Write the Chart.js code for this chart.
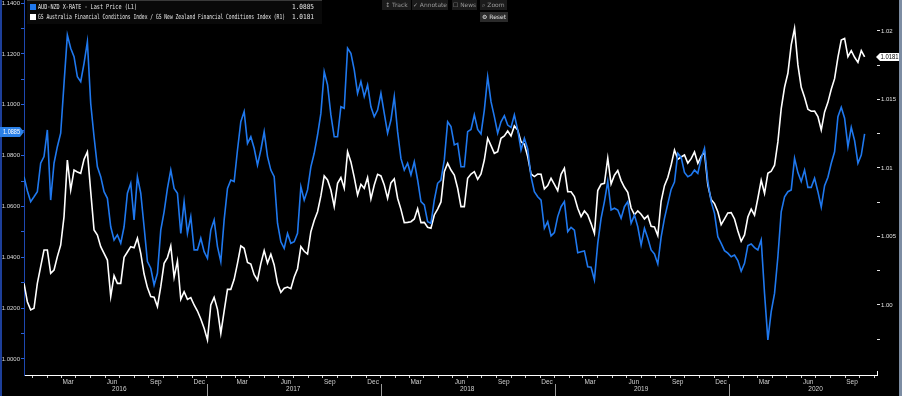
<!DOCTYPE html>
<html>
<head>
<meta charset="utf-8">
<script src="https://cdn.jsdelivr.net/npm/chart.js@4.4.1/dist/chart.umd.min.js"></script>
<style>
html, body { margin: 0; padding: 0; background: #000; }
#wrap { position: relative; width: 902px; height: 396px; }
</style>
</head>
<body>
<div id="wrap"><canvas id="chart" width="902" height="396"></canvas></div>
<script>
// weekly readings (Mondays)
const dates = [
	'2015-12-14','2015-12-21','2015-12-28',
	'2016-01-04','2016-01-11','2016-01-18','2016-01-25','2016-02-01','2016-02-08','2016-02-15','2016-02-22','2016-02-29',
	'2016-03-07','2016-03-14','2016-03-21','2016-03-28','2016-04-04','2016-04-11','2016-04-18','2016-04-25',
	'2016-05-02','2016-05-09','2016-05-16','2016-05-23','2016-05-30','2016-06-06','2016-06-13','2016-06-20','2016-06-27',
	'2016-07-04','2016-07-11','2016-07-18','2016-07-25','2016-08-01','2016-08-08','2016-08-15','2016-08-22','2016-08-29',
	'2016-09-05','2016-09-12','2016-09-19','2016-09-26','2016-10-03','2016-10-10','2016-10-17','2016-10-24','2016-10-31',
	'2016-11-07','2016-11-14','2016-11-21','2016-11-28','2016-12-05','2016-12-12','2016-12-19','2016-12-26',
	'2017-01-02','2017-01-09','2017-01-16','2017-01-23','2017-01-30','2017-02-06','2017-02-13','2017-02-20','2017-02-27',
	'2017-03-06','2017-03-13','2017-03-20','2017-03-27','2017-04-03','2017-04-10','2017-04-17','2017-04-24',
	'2017-05-01','2017-05-08','2017-05-15','2017-05-22','2017-05-29','2017-06-05','2017-06-12','2017-06-19','2017-06-26',
	'2017-07-03','2017-07-10','2017-07-17','2017-07-24','2017-07-31','2017-08-07','2017-08-14','2017-08-21','2017-08-28',
	'2017-09-04','2017-09-11','2017-09-18','2017-09-25','2017-10-02','2017-10-09','2017-10-16','2017-10-23','2017-10-30',
	'2017-11-06','2017-11-13','2017-11-20','2017-11-27','2017-12-04','2017-12-11','2017-12-18','2017-12-25',
	'2018-01-01','2018-01-08','2018-01-15','2018-01-22','2018-01-29','2018-02-05','2018-02-12','2018-02-19','2018-02-26',
	'2018-03-05','2018-03-12','2018-03-19','2018-03-26','2018-04-02','2018-04-09','2018-04-16','2018-04-23','2018-04-30',
	'2018-05-07','2018-05-14','2018-05-21','2018-05-28','2018-06-04','2018-06-11','2018-06-18','2018-06-25',
	'2018-07-02','2018-07-09','2018-07-16','2018-07-23','2018-07-30','2018-08-06','2018-08-13','2018-08-20','2018-08-27',
	'2018-09-03','2018-09-10','2018-09-17','2018-09-24','2018-10-01','2018-10-08','2018-10-15','2018-10-22','2018-10-29',
	'2018-11-05','2018-11-12','2018-11-19','2018-11-26','2018-12-03','2018-12-10','2018-12-17','2018-12-24','2018-12-31',
	'2019-01-07','2019-01-14','2019-01-21','2019-01-28','2019-02-04','2019-02-11','2019-02-18','2019-02-25',
	'2019-03-04','2019-03-11','2019-03-18','2019-03-25','2019-04-01','2019-04-08','2019-04-15','2019-04-22','2019-04-29',
	'2019-05-06','2019-05-13','2019-05-20','2019-05-27','2019-06-03','2019-06-10','2019-06-17','2019-06-24',
	'2019-07-01','2019-07-08','2019-07-15','2019-07-22','2019-07-29','2019-08-05','2019-08-12','2019-08-19','2019-08-26',
	'2019-09-02','2019-09-09','2019-09-16','2019-09-23','2019-09-30','2019-10-07','2019-10-14','2019-10-21','2019-10-28',
	'2019-11-04','2019-11-11','2019-11-18','2019-11-25','2019-12-02','2019-12-09','2019-12-16','2019-12-23','2019-12-30',
	'2020-01-06','2020-01-13','2020-01-20','2020-01-27','2020-02-03','2020-02-10','2020-02-17','2020-02-24',
	'2020-03-02','2020-03-09','2020-03-16','2020-03-23','2020-03-30','2020-04-06','2020-04-13','2020-04-20','2020-04-27',
	'2020-05-04','2020-05-11','2020-05-18','2020-05-25','2020-06-01','2020-06-08','2020-06-15','2020-06-22','2020-06-29',
	'2020-07-06','2020-07-13','2020-07-20','2020-07-27','2020-08-03','2020-08-10','2020-08-17','2020-08-24','2020-08-31',
	'2020-09-07','2020-09-14','2020-09-21','2020-09-28','2020-10-05','2020-10-12'
];

// AUD-NZD X-RATE, left axis
const audnzd = [
	1.0717, 1.0662, 1.0619, 1.0638, 1.0658, 1.0770, 1.0796, 1.0901, 1.0625, 1.0770, 1.0835, 1.0888, 1.1084, 1.1274,
	1.1222, 1.1189, 1.1110, 1.1091, 1.1163, 1.1248, 1.1005, 1.0874, 1.0756, 1.0717, 1.0658, 1.0632, 1.0520, 1.0468,
	1.0488, 1.0455, 1.0520, 1.0652, 1.0691, 1.0547, 1.0717, 1.0652, 1.0520, 1.0383, 1.0357, 1.0291, 1.0337, 1.0507,
	1.0579, 1.0671, 1.0743, 1.0671, 1.0652, 1.0494, 1.0619, 1.0494, 1.0560, 1.0429, 1.0429, 1.0475, 1.0422, 1.0396,
	1.0507, 1.0547, 1.0442, 1.0383, 1.0547, 1.0671, 1.0704, 1.0698, 1.0822, 1.0933, 1.0973, 1.0848, 1.0874, 1.0829,
	1.0763, 1.0822, 1.0894, 1.0796, 1.0743, 1.0717, 1.0534, 1.0461, 1.0435, 1.0494, 1.0455, 1.0461, 1.0494, 1.0678,
	1.0625, 1.0665, 1.0756, 1.0809, 1.0881, 1.0966, 1.1130, 1.1078, 1.0960, 1.0874, 1.0874, 1.0992, 1.0986, 1.1222,
	1.1202, 1.1137, 1.1045, 1.1091, 1.1032, 1.1078, 1.0992, 1.0953, 1.0979, 1.1045, 1.0966, 1.0888, 1.0940, 1.1032,
	1.0894, 1.0789, 1.0743, 1.0770, 1.0724, 1.0776, 1.0704, 1.0619, 1.0606, 1.0540, 1.0534, 1.0625, 1.0691, 1.0704,
	1.0783, 1.0933, 1.0914, 1.0842, 1.0848, 1.0756, 1.0756, 1.0894, 1.0903, 1.0960, 1.0903, 1.0885, 1.0979, 1.1110,
	1.1012, 1.0953, 1.0888, 1.0933, 1.0957, 1.0920, 1.0911, 1.0960, 1.0901, 1.0822, 1.0868, 1.0826, 1.0717, 1.0658,
	1.0638, 1.0625, 1.0514, 1.0540, 1.0484, 1.0497, 1.0560, 1.0599, 1.0619, 1.0501, 1.0518, 1.0507, 1.0418, 1.0422,
	1.0425, 1.0363, 1.0361, 1.0311, 1.0455, 1.0553, 1.0619, 1.0698, 1.0586, 1.0593, 1.0586, 1.0553, 1.0599, 1.0619,
	1.0534, 1.0566, 1.0520, 1.0448, 1.0514, 1.0475, 1.0429, 1.0413, 1.0374, 1.0479, 1.0553, 1.0610, 1.0667, 1.0696,
	1.0809, 1.0793, 1.0734, 1.0717, 1.0724, 1.0743, 1.0730, 1.0789, 1.0829, 1.0698, 1.0619, 1.0573, 1.0481, 1.0455,
	1.0426, 1.0416, 1.0402, 1.0409, 1.0387, 1.0345, 1.0376, 1.0446, 1.0452, 1.0438, 1.0429, 1.0468, 1.0258, 1.0075,
	1.0186, 1.0258, 1.0402, 1.0579, 1.0638, 1.0658, 1.0665, 1.0789, 1.0733, 1.0698, 1.0743, 1.0675, 1.0675, 1.0711,
	1.0658, 1.0597, 1.0682, 1.0715, 1.0770, 1.0815, 1.0953, 1.0990, 1.0947, 1.0835, 1.0911, 1.0859, 1.0770, 1.0802,
	1.0885
];

// GS Australia FCI / GS New Zealand FCI, right axis
const fciRatio = [
	1.00158, 1.00024, 0.99964, 0.99976, 1.00158, 1.00280, 1.00401, 1.00401, 1.00231, 1.00255, 1.00353, 1.00438, 1.00645, 1.01058,
	1.00839, 1.00985, 1.00971, 1.00961, 1.01063, 1.01117, 1.00827, 1.00547, 1.00511, 1.00426, 1.00377, 1.00328, 1.00061, 1.00214,
	1.00158, 1.00158, 1.00348, 1.00387, 1.00426, 1.00418, 1.00487, 1.00377, 1.00226, 1.00127, 1.00061, 1.00056, 0.99988, 1.00134,
	1.00304, 1.00346, 1.00431, 1.00202, 1.00321, 1.00041, 1.00097, 1.00041, 1.00054, 1.00000, 0.99956, 0.99898, 0.99830, 0.99745,
	1.00000, 1.00056, 0.99968, 0.99793, 0.99956, 1.00114, 1.00114, 1.00187, 1.00304, 1.00431, 1.00414, 1.00311, 1.00299, 1.00221,
	1.00182, 1.00302, 1.00397, 1.00306, 1.00370, 1.00292, 1.00158, 1.00092, 1.00122, 1.00131, 1.00119, 1.00204, 1.00265, 1.00426,
	1.00392, 1.00372, 1.00535, 1.00616, 1.00681, 1.00796, 1.00942, 1.00913, 1.00839, 1.00718, 1.00888, 1.00930, 1.00852, 1.01119,
	1.01044, 1.00932, 1.00803, 1.00881, 1.00852, 1.00930, 1.00774, 1.00876, 1.00954, 1.00942, 1.00876, 1.00779, 1.00891, 1.00920,
	1.00779, 1.00698, 1.00601, 1.00603, 1.00608, 1.00628, 1.00703, 1.00601, 1.00603, 1.00567, 1.00560, 1.00657, 1.00700, 1.00752,
	1.00973, 1.01034, 1.00985, 1.00949, 1.00852, 1.00718, 1.00718, 1.00925, 1.00956, 1.00973, 1.00917, 1.00956, 1.01058, 1.01217,
	1.01163, 1.01107, 1.01119, 1.01217, 1.01234, 1.01270, 1.01234, 1.01307, 1.01277, 1.01192, 1.01173, 1.01083, 1.00956, 1.00937,
	1.00956, 1.00954, 1.00847, 1.00871, 1.00925, 1.00881, 1.00835, 1.00954, 1.00998, 1.00827, 1.00827, 1.00791, 1.00706, 1.00645,
	1.00686, 1.00657, 1.00594, 1.00523, 1.00835, 1.00881, 1.00888, 1.01071, 1.00883, 1.00947, 1.00981, 1.00908, 1.00859, 1.00822,
	1.00708, 1.00659, 1.00686, 1.00662, 1.00628, 1.00652, 1.00574, 1.00569, 1.00506, 1.00757, 1.00871, 1.00930, 1.01022, 1.01131,
	1.01063, 1.01080, 1.01095, 1.01036, 1.01068, 1.01117, 1.01034, 1.01085, 1.01114, 1.00876, 1.00769, 1.00740, 1.00681, 1.00586,
	1.00628, 1.00672, 1.00674, 1.00628, 1.00540, 1.00465, 1.00511, 1.00642, 1.00700, 1.00655, 1.00779, 1.00910, 1.00815, 1.00961,
	1.00976, 1.01020, 1.01190, 1.01433, 1.01589, 1.01691, 1.01898, 1.02019, 1.01752, 1.01589, 1.01516, 1.01428, 1.01414, 1.01416,
	1.01375, 1.01277, 1.01409, 1.01479, 1.01574, 1.01652, 1.01808, 1.01934, 1.01946, 1.01813, 1.01856, 1.01808, 1.01771, 1.01856,
	1.01810
];

const leftTicks = [1.00, 1.01, 1.02, 1.03, 1.04, 1.05, 1.06, 1.07, 1.08, 1.09, 1.10, 1.11, 1.12, 1.13, 1.14];
const rightTicks = [0.9975, 1.0000, 1.0025, 1.0050, 1.0075, 1.0100, 1.0125, 1.0150, 1.0175, 1.0200];
const rightLabels = { '1.0000': '1.00', '1.0050': '1.005', '1.0100': '1.01', '1.0150': '1.015', '1.0200': '1.02' };
const quarterMonths = [2, 5, 8, 11];
const quarterNames = ['Mar', 'Jun', 'Sep', 'Dec'];
const years = [2016, 2017, 2018, 2019, 2020];

const seriesNames = [
	'AUD-NZD X-RATE - Last Price (L1)',
	'GS Australia Financial Conditions Index / GS New Zealand Financial Conditions Index (R1)'
];
const toolButtons = ['\u2195 Track', '\u2713 Annotate', '\u2610 News', '\u2315 Zoom'];

const BLUE = '#1f78ee';
const xMin = Date.parse('2015-12-14');
const xMax = Date.parse('2020-11-07');

const blueData = dates.map((d, i) => ({ x: Date.parse(d), y: audnzd[i] }));
const whiteData = dates.map((d, i) => ({ x: Date.parse(d), y: fciRatio[i] }));

const overlay = {
	id: 'overlay',
	afterDraw(chart) {
		const ctx = chart.ctx;
		const xs = chart.scales.x;
		const yl = chart.scales.y;
		const yr = chart.scales.y1;
		const area = chart.chartArea;
		ctx.save();

		// frame edges
		ctx.fillStyle = '#1d3f9a';
		ctx.fillRect(0, 0, 2, 396);
		ctx.fillStyle = '#7d8da3';
		ctx.fillRect(899, 0, 3, 396);

		// end tick of time axis
		ctx.strokeStyle = '#ffffff';
		ctx.lineWidth = 1;
		ctx.beginPath();
		ctx.moveTo(area.right + 0.5, area.bottom - 4);
		ctx.lineTo(area.right + 0.5, area.bottom);
		ctx.stroke();

		// year separators + labels
		ctx.font = '6.5px "Liberation Sans", sans-serif';
		ctx.textAlign = 'center';
		ctx.textBaseline = 'middle';
		years.forEach(y => {
			const b = xs.getPixelForValue(Date.UTC(y + 1, 0, 1));
			if (b < area.right) {
				ctx.strokeStyle = '#9a9a9a';
				ctx.beginPath();
				ctx.moveTo(Math.round(b) + 0.5, 384);
				ctx.lineTo(Math.round(b) + 0.5, 396);
				ctx.stroke();
			}
			ctx.fillStyle = '#d0d0d0';
			ctx.fillText(String(y), xs.getPixelForValue(Date.UTC(y, 6, 1)), 389.5);
		});

		// last value tags
		const lastB = audnzd[audnzd.length - 1];
		const lastW = fciRatio[fciRatio.length - 1];
		let py = yl.getPixelForValue(lastB) - 2;
		ctx.fillStyle = '#2a80e8';
		ctx.beginPath();
		ctx.moveTo(0, py - 5);
		ctx.lineTo(20, py - 5);
		ctx.lineTo(24, py);
		ctx.lineTo(20, py + 5);
		ctx.lineTo(0, py + 5);
		ctx.closePath();
		ctx.fill();
		ctx.fillStyle = '#ffffff';
		ctx.font = '6.5px "Liberation Sans", sans-serif';
		ctx.textAlign = 'left';
		ctx.fillText(lastB.toFixed(4), 3, py + 0.5, 17);

		py = yr.getPixelForValue(lastW);
		ctx.fillStyle = '#ffffff';
		ctx.beginPath();
		ctx.moveTo(876, py);
		ctx.lineTo(880, py - 4);
		ctx.lineTo(899, py - 4);
		ctx.lineTo(899, py + 4);
		ctx.lineTo(880, py + 4);
		ctx.closePath();
		ctx.fill();
		ctx.fillStyle = '#000000';
		ctx.fillText(lastW.toFixed(4), 880.5, py + 0.5, 18);

		// legend
		ctx.fillStyle = 'rgba(10,10,10,0.92)';
		ctx.fillRect(27, 0, 295, 24);
		ctx.fillStyle = '#3a3a3a';
		ctx.fillRect(27, 0, 295, 1);
		ctx.fillStyle = BLUE;
		ctx.fillRect(30, 4, 6, 6);
		ctx.fillStyle = '#ffffff';
		ctx.fillRect(30, 14, 6, 6);
		ctx.font = '7px "DejaVu Sans Mono", monospace';
		ctx.textBaseline = 'middle';
		ctx.fillStyle = '#e8e8e8';
		ctx.fillText(seriesNames[0], 38, 7.5, 99);
		ctx.fillText(seriesNames[1], 38, 17.5, 247);
		ctx.fillText(lastB.toFixed(4), 292, 7.5, 22);
		ctx.fillText(lastW.toFixed(4), 292, 17.5, 22);

		// toolbar
		const btnX = [382, 412, 452, 480];
		const btnW = [29, 36, 25, 27];
		ctx.font = '6px "DejaVu Sans", sans-serif';
		ctx.textAlign = 'center';
		toolButtons.forEach((t, i) => {
			ctx.fillStyle = '#1b1b1b';
			ctx.fillRect(btnX[i], 0, btnW[i], 10);
			ctx.fillStyle = '#9a9a9a';
			ctx.fillText(t, btnX[i] + btnW[i] / 2, 5, btnW[i] - 2);
		});
		ctx.fillStyle = '#2a2a2a';
		ctx.fillRect(480, 12, 28, 10);
		ctx.fillStyle = '#e0e0e0';
		ctx.fillText('\u2699 Reset', 494, 17, 26);

		ctx.restore();
	}
};

new Chart(document.getElementById('chart'), {
	type: 'line',
	data: {
		datasets: [{
			label: seriesNames[0],
			data: blueData,
			yAxisID: 'y',
			borderColor: BLUE,
			borderWidth: 1.6,
			pointRadius: 0,
			tension: 0,
		}, {
			label: seriesNames[1],
			data: whiteData,
			yAxisID: 'y1',
			borderColor: '#ffffff',
			borderWidth: 1.6,
			pointRadius: 0,
			tension: 0,
		}]
	},
	options: {
		responsive: false,
		animation: false,
		layout: { padding: 0 },
		scales: {
			x: {
				type: 'linear',
				min: xMin,
				max: xMax,
				afterBuildTicks: function (scale) {
					const ticks = [];
					for (let y = 2016; y <= 2020; y++) {
						for (let m = 0; m < 12; m++) {
							const v = Date.UTC(y, m, 1);
							if (v >= xMin && v <= xMax) ticks.push({ value: v });
						}
					}
					scale.ticks = ticks;
				},
				afterFit: function (scale) {
					scale.height = 21;
					scale.paddingLeft = 0;
					scale.paddingRight = 0;
				},
				border: { display: true, color: '#ffffff', width: 1 },
				grid: {
					display: true,
					drawOnChartArea: false,
					drawTicks: true,
					tickLength: 3,
					color: '#cfcfcf',
				},
				ticks: {
					autoSkip: false,
					maxRotation: 0,
					labelOffset: 7,
					padding: 0,
					color: '#d0d0d0',
					font: { size: 6.5, family: 'Liberation Sans' },
					callback: function (value) {
						const k = quarterMonths.indexOf(new Date(value).getUTCMonth());
						return k >= 0 ? quarterNames[k] : '';
					}
				}
			},
			y: {
				position: 'left',
				min: 0.9937,
				max: 1.1412,
				afterBuildTicks: function (scale) {
					scale.ticks = leftTicks.map(v => ({ value: v }));
				},
				afterFit: function (scale) {
					scale.width = 24;
					scale.paddingTop = 0;
					scale.paddingBottom = 0;
				},
				border: { display: true, color: '#1e48b0', width: 1 },
				grid: {
					display: true,
					drawOnChartArea: false,
					tickLength: 3,
					color: '#2a62d8',
				},
				ticks: {
					padding: 1,
					color: '#d8d8d8',
					font: { size: 6, family: 'Liberation Sans' },
					callback: function (value) {
						return Math.round(value * 100) % 2 === 0 ? value.toFixed(4) : '';
					}
				}
			},
			y1: {
				position: 'right',
				min: 0.99489,
				max: 1.02226,
				afterBuildTicks: function (scale) {
					scale.ticks = rightTicks.map(v => ({ value: v }));
				},
				afterFit: function (scale) {
					scale.width = 25;
					scale.paddingTop = 0;
					scale.paddingBottom = 0;
				},
				border: { display: false },
				grid: {
					display: true,
					drawOnChartArea: false,
					tickLength: 3,
					color: '#e0e0e0',
				},
				ticks: {
					padding: 1,
					color: '#e0e0e0',
					font: { size: 6, family: 'Liberation Sans' },
					callback: function (value) {
						return rightLabels[value.toFixed(4)] || '';
					}
				}
			}
		},
		plugins: {
			legend: { display: false },
			tooltip: { enabled: false },
		}
	},
	plugins: [overlay]
});
</script>
</body>
</html>
